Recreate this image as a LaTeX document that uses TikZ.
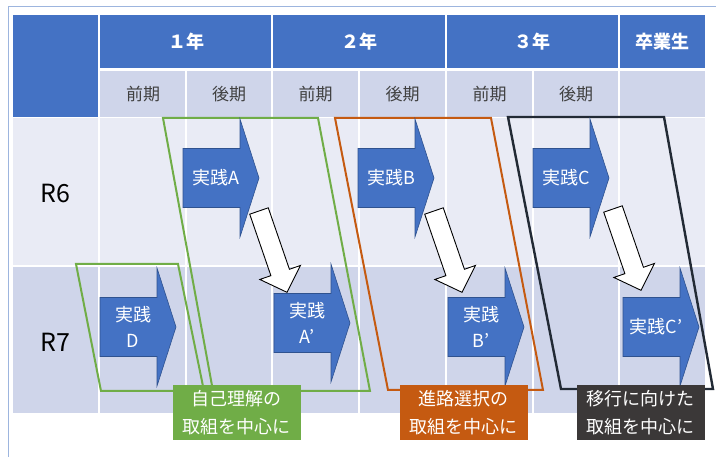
\documentclass[tikz,border=0pt]{standalone}
\usepackage{fontspec}
\setmainfont{Noto Sans CJK JP}
\definecolor{hdblue}{HTML}{4472C4}
\definecolor{rowlight}{HTML}{CFD5EA}
\definecolor{rowpale}{HTML}{E9EBF5}
\definecolor{arrowedge}{HTML}{2F528F}
\definecolor{selfgreen}{HTML}{70AD47}
\definecolor{pathorange}{HTML}{C55A11}
\definecolor{movenavy}{HTML}{222A35}
\definecolor{movedark}{HTML}{3B3838}
\definecolor{framebl}{HTML}{9DB5DE}

\begin{document}
\begin{tikzpicture}[x=1pt, y=-1pt,
    hdcell/.style={text=white, font=\bfseries\fontsize{18}{22}\selectfont},
    subcell/.style={text=black!75, font=\fontsize{17}{20}\selectfont},
    rowlbl/.style={text=black, font=\fontsize{25}{28}\selectfont},
    jtext/.style={text=white, align=center, inner sep=0, font=\fontsize{18}{26}\selectfont},
    tag/.style={minimum width=128, minimum height=55, inner sep=0, align=center,
      text=white, font=\fontsize{18}{28}\selectfont},
    zone/.style={line width=2, line join=miter}]
  \useasboundingbox (0,0) rectangle (716,457);
  \draw[framebl, line width=1] (716,7) -- (8,7) -- (8,457);

  \fill[hdblue] (13,15) rectangle (98,117);
  \fill[hdblue] (100,15) rectangle (705,68);
  \fill[rowlight] (100,71) rectangle (705,117);
  \fill[rowpale] (13,118) rectangle (705,265);
  \fill[rowlight] (13,267) rectangle (705,413);
  \foreach \x in {186,359,533}
    \draw[white, line width=1.5] (\x,71) -- (\x,413);
  \foreach \x in {272,446,619}
    \draw[white, line width=1.5] (\x,15) -- (\x,413);
  \draw[white, line width=2] (99,118) -- (99,413);

  \node[hdcell] (y1) at (186,41.5) {１年};
  \node[hdcell] (y2) at (359,41.5) {２年};
  \node[hdcell] (y3) at (532.5,41.5) {３年};
  \node[hdcell] (grad) at (662,41.5) {卒業生};
  \foreach \cx/\term [count=\i] in {143/前期,229/後期,315.5/前期,402.5/後期,489.5/前期,576/後期}
    \node[subcell] (t\i) at (\cx,94) {\term};
  \node[rowlbl] (r6) at (55.5,194) {R6};
  \node[rowlbl] (r7) at (55.5,342) {R7};

  \draw[zone, selfgreen] (163,118) -- (318,118) -- (370,391) -- (213,391) -- cycle;
  \draw[zone, selfgreen] (76,264) -- (178,264) -- (204,391) -- (101,391) -- cycle;
  \draw[zone, pathorange] (335,118) -- (491,118) -- (543,390) -- (388,390) -- cycle;
  \draw[zone, movenavy, line width=2.4] (508,117) -- (664,117) -- (713,389) -- (561,389) -- cycle;

  \foreach \bx/\by/\nm/\txt in {183/178/jA/実践A, 358/178/jB/実践B, 533/178/jC/実践C,
      100/327/jD/{実践\\D}, 274/323/jAp/{実践\\A’}, 448/327/jBp/{実践\\B’}, 623/327/jCp/実践C’}{
    \filldraw[fill=hdblue, draw=arrowedge, line width=0.6]
      (\bx,\by-29.5) -- (\bx+57,\by-29.5) -- (\bx+57,\by-59) -- (\bx+76,\by)
      -- (\bx+57,\by+59) -- (\bx+57,\by+29.5) -- (\bx,\by+29.5) -- cycle;
    \node[jtext] (\nm) at (\bx+33,\by) {\txt};
  }

  \foreach \sx/\sy in {259/211, 434/211, 613/209}{
    \begin{scope}[shift={(\sx,\sy)}, rotate=-71]
      \filldraw[fill=white, draw=black, line width=0.9, line join=miter]
        (0,-9.8) -- (65,-9.8) -- (65,-21.5) -- (86,0) -- (65,21.5) -- (65,9.8) -- (0,9.8) -- cycle;
    \end{scope}
  }

  \node[tag, fill=selfgreen] (self) at (236.5,412.5) {自己理解の\\取組を中心に};
  \node[tag, fill=pathorange] (path) at (463.5,412.5) {進路選択の\\取組を中心に};
  \node[tag, fill=movedark] (move) at (640.5,412.5) {移行に向けた\\取組を中心に};
\end{tikzpicture}
\end{document}
